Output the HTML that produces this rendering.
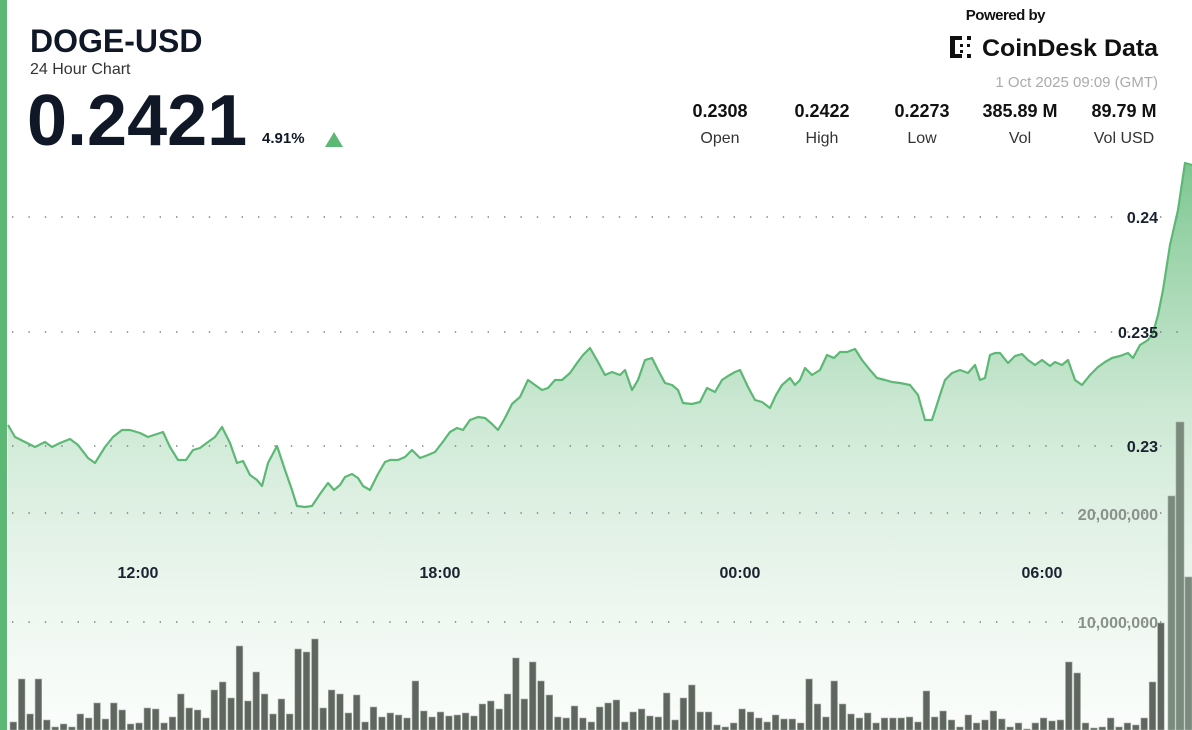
<!DOCTYPE html>
<html><head><meta charset="utf-8"><style>
html,body{margin:0;padding:0;background:#fff;width:1192px;height:730px;overflow:hidden}
svg text{font-family:"Liberation Sans",sans-serif}
</style></head><body>
<svg id="s" width="1192" height="730" viewBox="0 0 1192 730" xmlns="http://www.w3.org/2000/svg">
<defs>
<linearGradient id="g" gradientUnits="userSpaceOnUse" x1="0" y1="160" x2="0" y2="730">
<stop offset="0" stop-color="#5cb874" stop-opacity="0.8"/>
<stop offset="0.45" stop-color="#7cc48f" stop-opacity="0.38"/>
<stop offset="1" stop-color="#e8f3ea" stop-opacity="0.2"/>
</linearGradient>
</defs>
<rect width="1192" height="730" fill="#fff"/>
<path id="area" fill="url(#g)" stroke="none"/>
<g id="grid" fill="#777"></g>
<g id="bars" fill="#5f665f" stroke="#a8b0a8" stroke-width="0.6"></g>
<path id="line" fill="none" stroke="#5cb874" stroke-width="2.2" stroke-linejoin="round"/>
<rect x="0" y="0" width="7" height="730" fill="#5cb874"/>
<text x="30" y="52" font-size="32" font-weight="bold" fill="#101828">DOGE-USD</text>
<text x="30" y="74" font-size="16" fill="#333">24 Hour Chart</text>
<text x="27" y="145" font-size="72" font-weight="bold" fill="#101828">0.2421</text>
<text x="262" y="143" font-size="15" font-weight="bold" fill="#101828">4.91%</text>
<polygon points="325,147 334,132 343,147" fill="#5cb874"/>
<text x="1045" y="20" font-size="15" font-weight="bold" fill="#111" text-anchor="end" letter-spacing="-0.5">Powered by</text>
<g fill="#111"><rect x="950" y="36" width="5" height="22"/><rect x="950" y="36" width="12" height="4"/><rect x="950" y="54" width="12" height="4"/><rect x="967" y="36" width="4" height="4"/><rect x="967" y="54" width="4" height="4"/><rect x="960" y="44" width="3" height="3"/><rect x="967" y="44" width="3" height="3"/><rect x="960" y="50" width="3" height="3"/></g>
<text x="1158" y="56" font-size="24" font-weight="bold" fill="#111" text-anchor="end" textLength="176" lengthAdjust="spacingAndGlyphs">CoinDesk Data</text>
<text x="1158" y="87" font-size="15" fill="#aaa" text-anchor="end">1 Oct 2025 09:09 (GMT)</text>
<g font-size="18" font-weight="bold" fill="#111" text-anchor="middle">
<text x="720" y="117">0.2308</text><text x="822" y="117">0.2422</text><text x="922" y="117">0.2273</text><text x="1020" y="117">385.89 M</text><text x="1124" y="117">89.79 M</text></g>
<g font-size="16" fill="#333" text-anchor="middle">
<text x="720" y="143">Open</text><text x="822" y="143">High</text><text x="922" y="143">Low</text><text x="1020" y="143">Vol</text><text x="1124" y="143">Vol USD</text></g>
<g font-size="16" font-weight="bold" fill="#1a2230" text-anchor="end">
<text x="1158" y="223">0.24</text><text x="1158" y="338">0.235</text><text x="1158" y="452">0.23</text></g>
<g font-size="16" font-weight="bold" fill="#8a908a" text-anchor="end">
<text x="1158" y="520">20,000,000</text><text x="1158" y="628">10,000,000</text></g>
<g font-size="16" font-weight="bold" fill="#1a2230" text-anchor="middle">
<text x="138" y="578">12:00</text><text x="440" y="578">18:00</text><text x="740" y="578">00:00</text><text x="1042" y="578">06:00</text></g>
</svg>
<script>
var P=[[8,425],[15,437],[25,442],[35,447],[45,442],[52,447],[60,443],[70,439],[78,445],[88,458],[95,463],[105,447],[113,437],[122,430],[130,430],[140,433],[148,437],[157,434],[163,432],[170,447],[178,460],[186,460],[193,450],[200,448],[208,442],[215,437],[222,427],[230,443],[237,463],[243,461],[250,475],[257,480],[262,486],[268,463],[277,446],[285,470],[292,490],[297,506],[305,507],[312,506],[320,494],[328,483],[334,490],[340,485],[345,477],[352,474],[358,478],[363,486],[370,490],[378,474],[385,462],[390,460],[398,460],[405,457],[412,450],[420,458],[428,455],[435,452],[442,443],[450,432],[457,428],[463,430],[470,420],[478,417],[485,418],[492,424],[498,430],[505,418],[512,404],[520,397],[528,380],[535,385],[542,390],[548,388],[555,380],[562,380],[570,373],[577,363],[583,355],[590,348],[598,362],[605,375],[612,372],[620,375],[625,370],[632,390],[638,380],[645,360],[652,358],[658,370],[665,383],[672,385],[678,390],[683,403],[692,404],[700,402],[707,388],[715,392],[722,380],[728,376],[735,372],[740,370],[748,387],[755,400],[762,402],[770,408],[776,395],[782,385],[790,378],[795,385],[800,380],[805,368],[812,375],[820,370],[827,355],[834,358],[840,352],[847,352],[855,349],[862,360],[870,370],[877,378],[885,380],[892,382],[900,383],[910,385],[918,395],[925,420],[932,420],[940,395],[945,380],[952,373],[960,370],[968,373],[975,365],[980,380],[985,378],[990,355],[995,353],[1000,353],[1008,363],[1015,356],[1022,354],[1028,360],[1035,365],[1042,360],[1050,366],[1055,362],[1062,365],[1068,360],[1075,380],[1082,385],[1090,375],[1098,367],[1105,362],[1112,358],[1120,356],[1128,353],[1133,358],[1140,345],[1148,340],[1153,333],[1158,315],[1163,290],[1170,245],[1178,210],[1185,163],[1192,165]];
var d="M"+P.map(function(p){return p[0]+","+p[1]}).join(" L");
document.getElementById("line").setAttribute("d",d);
document.getElementById("area").setAttribute("d",d+" L1192,730 L8,730 Z");
var g=document.getElementById("grid"),s="";
[217,332,446,513,622].forEach(function(y){for(var x=12;x<1192;x+=16.4){s+='<rect x="'+x.toFixed(1)+'" y="'+(y-0.7)+'" width="1.4" height="1.4"/>';}});
g.innerHTML=s;
var H=[8,51,16,51,10,3,6,3,16,12,27,11,27,20,6,7,22,21,7,13,36,22,20,12,40,48,32,84,29,58,36,16,31,16,81,78,91,22,40,36,17,35,8,23,13,17,15,12,49,19,13,18,14,15,17,14,26,29,21,36,72,31,68,49,35,13,12,24,12,8,23,
27,30,8,18,21,14,13,37,10,32,45,18,18,5,3,7,21,18,12,8,15,11,11,7,51,26,13,49,26,16,12,17,7,12,12,12,13,8,39,13,19,10,3,15,7,10,19,11,3,7,1,7,12,9,10,68,57,7,2,3,12,3,7,5,12,48,107];
var n=H.length,x0=10,x1=1166,sp=(x1-x0)/n,b="";
for(var i=0;i<n;i++){var x=x0+i*sp;b+='<rect x="'+x.toFixed(1)+'" y="'+(730-H[i])+'" width="'+(sp-1.8).toFixed(1)+'" height="'+H[i]+'"/>';}
b+='<rect x="1168" y="496" width="7" height="234" fill="#7a8a7c"/><rect x="1176" y="422" width="8" height="308" fill="#7a8a7c"/><rect x="1185" y="577" width="7" height="153" fill="#7a8a7c"/>';
document.getElementById("bars").innerHTML=b;
</script>
</body></html>
